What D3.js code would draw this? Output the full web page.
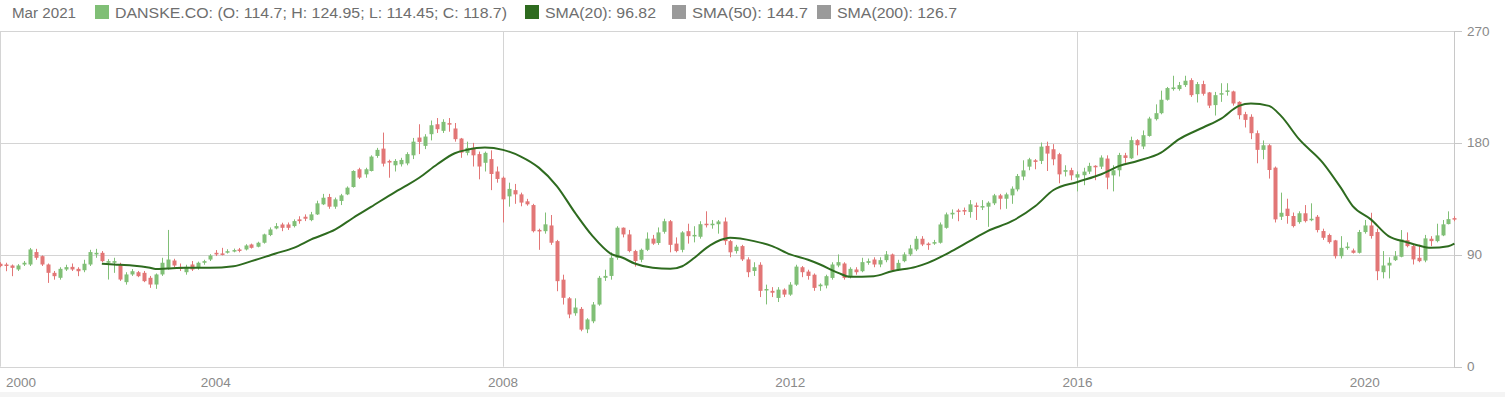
<!DOCTYPE html>
<html>
<head>
<meta charset="utf-8">
<script src="https://cdn.jsdelivr.net/npm/d3@7"></script>
<style>
  body { margin: 0; background: #fff; }
  text { font-family: "Liberation Sans", Arial, sans-serif; }
</style>
</head>
<body>
<script>
// monthly candles, Jan 2001 .. Apr 2021
var months = d3.timeMonth.range(new Date(2001, 0, 1), new Date(2021, 4, 1));

var opens = [82.8,82.2,81.4,78.2,82.2,82.2,92.2,88.9,82.2,75.5,71.5,78.2,80.3,78.7,77.6,82.2,90.3,91.6,83.6,83.6,
  82.2,68,74.2,76,75.5,71.5,66.1,74.2,79.5,85.4,80.3,76,82.2,79.5,83.6,86.2,91.6,91.1,92.1,92.7,
  94.3,94.3,98.3,96.5,99.7,105.9,111.2,114.4,114.4,113.1,118.5,120.6,117.9,122.5,130.6,136.5,128.7,133.3,138.6,144.5,
  158.8,154.7,157.4,169.5,175.4,165.5,162,162.8,163.5,170,184.3,177.6,187,195,189.7,195.9,191.6,183.5,172,176,
  171,164,167,157,152,137,142,138.6,133,130,110,109,113.6,101,70,55,43,46.5,30,36.5,
  50,71.5,73,87.6,111.8,106.4,93,86,94,103,99.5,108.5,117,99,94,109,105,104.5,115,114,
  114.6,116.8,101,93,97,86.3,77,82,61.5,61,55.3,62,58,66,80,76.5,74,64.7,65.3,71.4,
  81.4,83,72.8,78.2,76.8,83.5,86.2,82.2,85.7,90.3,78.2,84.9,90.3,94.3,102.9,99,99.1,99.7,111.7,122.5,
  125.7,126,124.4,129.7,128.4,128.7,131.4,137.8,135.1,137.8,142.6,152.9,160.9,166,165.5,177.6,174.9,170.9,156.8,158.1,
  152.1,154,156.9,161.6,160.9,167.4,153.9,158,170,167.6,182.2,177.1,185.6,199.1,203.9,214.7,223.3,223.3,226.5,230.5,
  219.2,227.3,220.6,210.4,219,221.4,221.4,213,203.1,201,187.8,174.4,178.1,160.1,120.6,127.1,121.2,116.3,123.4,118.5,
  120.6,109.1,105.9,101.6,88.9,96.1,93.5,91.6,108.3,113.6,108.3,76,81.4,85.7,88.4,101.8,97,87.6,85.4,102.9,
  101,105.6,114.7,119.5];
var highs = [84,83.6,82.2,82.5,85,95.5,94.8,89.5,83,77,80,82,83,80,86,94,94.8,93,86.5,87.6,
  83.6,76,78.5,77,77,73,75,87.6,110,86.8,83,82,85,84.5,86,90.5,93.8,95.6,94.5,95,
  95.5,98.5,99,100.5,107,112,115.5,115.8,116,118.5,121,122.5,124.5,133.5,139,139,136,139,145,158,
  160,160,170,176,188.3,166.5,167,168,172.5,184,195,187,198,200,199,200,196,184,181,180,
  173,173,174,161,153,148,147,140,135,131,111,124,122,102,74,56,55,48,39,52,
  73,78,92,113,112,110,94,95,108,106,112,119,118,104,109,115,113,117,125,118,
  118,120,102,98,98,88,84,84,66,64,64,63,68,82,81,78,75,67,74,84,
  90.3,84,80,80,87.6,87,88,88,93,91,86,92,98,105,105,100,102,116,124,126.5,
  127,128,134,132,134,133,139,139,140,145,155,166,168,167,180.3,181,179,172,162,160,
  157,160,164,162,170,170,162,172,172,185,183,190,201,211,222,225,234,229,234,232,
  229,230,221,221,228,228,222,213.5,205,203,190,182,179,161,140,135.1,124,125,130,131.4,
  122,111,107,102,105,100,95,110,118,123.8,111,93,88,93,109.9,108,98,98,106,105,
  115,118,124.95,121];
var lows = [80,76.8,72.8,77,81,81,86,81,67.4,70,70,77,77,72.8,76,81,87.6,84,70.1,75.5,
  69,66,73,72,68,63.4,62.6,73,78,80,77,74,77,78,82,85,89,89.5,91,92,
  92,93.5,95,96,99,105,110.5,109,110,112,115,117.1,117,122,130,127,127,130,138,144,
  151,152,157,168,161,152,157,161,162,167,171,175,182,188,188,189,181,168,170,161,
  150.7,157,142,148,116,128.7,131,129,129.5,108,94,107,98,60.7,50,39,41,28.5,27,35,
  49,69,70,86,104,92,80.5,84,93,98,98,107,92,92,92,99,100,103,112,111,
  107,98,88,91,85,72,73,56,50.1,56,52,56,57,65,72,70,61,61,63,70,
  80,70,71,74,76,82,80,80,84,77,77,84,89,93,97,94,98,99,111,119,
  117,122,119.8,118,126,112.5,130,126.5,127,131,141,150,158,158.8,163,157.4,162,147.5,153,150,
  141,146,155,150,159,142.7,141,153,164,167,170,175,185,198,203,214,222,222,225,217,
  212.5,218,208,202,213,218,210,199,192.4,183,163.6,166.8,151.3,116,118,115,112,115,116,117,
  108,102,99,87,87,94,91,91,107,103,69.6,71,71,85,88,96,82.2,84,84,97,
  100,105,114.45,117];
var closes = [80.9,81.4,79.5,81.4,83.6,94.3,87.6,82.2,75.5,72.8,78.7,80.1,78.2,76.8,82.8,92.2,91.6,84.9,84.9,84.9,
  70.1,74.2,76.8,72.8,68.8,66.1,74.2,83.6,86.2,81.4,78.7,80.3,78.2,83.6,84.9,89.4,90.3,90.3,92.9,93.8,
  93.2,97.5,95.6,99.7,106.4,110.4,113.1,111.7,111.7,117.1,117.1,119,122.5,131.4,135.9,128.7,134.6,137.8,144,157.4,
  152.1,158.8,169,174.4,163.3,164.2,165.5,166.3,171,181,180.8,185.1,194.2,191,196.9,194.8,183,172.2,176,170,
  161,172,155,151,134.6,143,138.6,132,130.6,109,109,114.5,99.7,68.8,55.4,42,47.6,29.8,38,50,
  71.5,73,87.6,111.8,106.4,93,85,94,103,99,108,117,98,93,108,105,106,114.6,114,115,
  116.8,101,92,96.5,86.3,76,80,61,62.5,59.5,62,58,66,80.5,76,73,63.4,66,72.8,82.2,
  84.1,71.4,78.7,76,84.1,84.9,82.2,85.7,90.3,77.6,83.5,90.3,95.1,102.9,98.3,98.3,100.2,114.4,122.5,123.8,
  124.6,124.9,130.6,128.7,129.2,131.9,137.8,135.1,138.6,143.2,153.4,157.9,166.8,164.7,177,171.4,166.8,154.7,158.1,153.9,
  154.8,156.9,161.5,160.6,168.2,152.1,158,170.3,167.9,182.2,178.1,186.2,199.6,203.9,214.7,224.1,224.6,226.5,230,218.4,
  227.3,219.5,210,218.4,220,222.2,211.7,202.3,198.5,187.8,174.4,178.1,158.2,118.5,123.8,121.2,113.1,123.4,117.1,119,
  109.9,103.7,100.2,88.9,95.6,96.6,91.6,108.3,113.6,105.1,76.8,81.4,83.6,88.9,102.4,97,86.3,84.9,103.2,101,
  105.6,114.5,118.7,118.5];

// SMA(20)
var smaDates = ["2002-06","2002-08","2002-11","2003-02","2003-03","2003-05","2003-08","2003-12","2004-04","2004-07",
  "2004-11","2005-02","2005-05","2005-09","2005-12","2006-03","2006-07","2006-09","2006-11","2007-02",
  "2007-05","2007-07","2007-10","2008-01","2008-04","2008-07","2008-10","2009-01","2009-04","2009-07",
  "2009-09","2009-11","2010-02","2010-05","2010-07","2010-09","2010-11","2011-02","2011-03","2011-07",
  "2011-10","2012-01","2012-04","2012-06","2012-09","2012-11","2013-03","2013-06","2013-10","2013-12",
  "2014-04","2014-07","2014-10","2015-02","2015-06","2015-09","2016-01","2016-05","2016-08","2016-11",
  "2017-03","2017-06","2017-10","2018-01","2018-04","2018-06","2018-09","2018-11","2019-02","2019-06",
  "2019-09","2019-11","2020-02","2020-05","2020-08","2020-10","2020-12","2021-03","2021-04"];
var smaValues = [82.8,82.2,81.4,79.5,78.6,79,79.5,79.5,80.8,84.9,
  91.1,95.6,102.4,110.4,119.8,128.5,140.5,146,152,162.8,
  171.7,174.4,176.3,174.4,169,160.1,145.3,123.9,105,91,
  87.6,83,79.5,78.7,80.8,87.6,95.6,102.9,103.7,101,
  97,90.3,86,82.2,75.5,72.3,72.8,76.8,80.3,83.5,
  92.9,101,109.1,117,129.2,142.1,148.6,154.8,161.5,165.5,
  172.2,183,192.4,199.6,209.8,211.7,209.8,201.7,183,164.2,
  144,129.2,118.5,105,100.2,97.5,95.6,96.82,98.9];

var yTicks = [0, 90, 180, 270];
var xTickYears = [2000, 2004, 2008, 2012, 2016, 2020];
var xGridYears = [2008, 2016];

var width = 1505, height = 397;
var plotRight = 1454, plotTop = 31, plotBottom = 366.7;

var svg = d3.select("body").append("svg")
    .attr("width", width)
    .attr("height", height);

svg.append("rect")
    .attr("x", 0).attr("y", 392)
    .attr("width", width).attr("height", 5)
    .attr("fill", "#f4f4f4");

var x = d3.scaleTime()
    .domain([new Date(2001, 0, 1), new Date(2021, 2, 1)])
    .range([0.4, 1448.3]);
var y = d3.scaleLinear()
    .domain([0, 270])
    .range([plotBottom, plotTop]);

var parseMonth = d3.timeParse("%Y-%m");

// grid
svg.append("g").selectAll("line")
    .data(yTicks)
    .enter().append("line")
    .attr("x1", 0).attr("x2", plotRight)
    .attr("y1", function(d) { return Math.round(y(d)) + 0.5; })
    .attr("y2", function(d) { return Math.round(y(d)) + 0.5; })
    .attr("stroke", "#d4d4d4");

svg.append("g").selectAll("line")
    .data(xGridYears)
    .enter().append("line")
    .attr("x1", function(d) { return Math.round(x(new Date(d, 0, 1))) + 0.5; })
    .attr("x2", function(d) { return Math.round(x(new Date(d, 0, 1))) + 0.5; })
    .attr("y1", plotTop).attr("y2", plotBottom)
    .attr("stroke", "#d4d4d4");

svg.append("line")
    .attr("x1", 0.5).attr("x2", 0.5)
    .attr("y1", plotTop).attr("y2", plotBottom)
    .attr("stroke", "#d4d4d4");

// right axis
var axisG = svg.append("g");
axisG.append("line")
    .attr("x1", plotRight + 0.5).attr("x2", plotRight + 0.5)
    .attr("y1", plotTop).attr("y2", Math.round(plotBottom) + 0.5)
    .attr("stroke", "#c8c8c8");
axisG.selectAll(".tick")
    .data(yTicks)
    .enter().append("line")
    .attr("x1", plotRight).attr("x2", plotRight + 8)
    .attr("y1", function(d) { return Math.round(y(d)) + 0.5; })
    .attr("y2", function(d) { return Math.round(y(d)) + 0.5; })
    .attr("stroke", "#c8c8c8");
axisG.selectAll("text")
    .data(yTicks)
    .enter().append("text")
    .attr("x", plotRight + 13)
    .attr("y", function(d) { return y(d) + 4.5; })
    .attr("fill", "#8a8a8a")
    .style("font-size", "13.5px")
    .text(function(d) { return d; });

// bottom labels
svg.append("g").selectAll("text")
    .data(xTickYears)
    .enter().append("text")
    .attr("x", function(d) { return Math.max(21, x(new Date(d, 0, 1))); })
    .attr("y", 387)
    .attr("text-anchor", "middle")
    .attr("fill", "#8a8a8a")
    .style("font-size", "13.5px")
    .text(function(d) { return d; });

// candles
var green = "#80bf76", red = "#e27676";
var candles = svg.append("g").selectAll("g")
    .data(months)
    .enter().append("g")
    .attr("fill", function(d, i) { return closes[i] >= opens[i] ? green : red; })
    .attr("stroke", function(d, i) { return closes[i] >= opens[i] ? green : red; });

candles.append("line")
    .attr("x1", function(d) { return Math.round(x(d)) + 0.5; })
    .attr("x2", function(d) { return Math.round(x(d)) + 0.5; })
    .attr("y1", function(d, i) { return y(highs[i]); })
    .attr("y2", function(d, i) { return y(lows[i]); })
    .attr("stroke-width", 1);

candles.append("rect")
    .attr("stroke", "none")
    .attr("x", function(d) { return Math.round(x(d)) - 1.5; })
    .attr("width", 4)
    .attr("y", function(d, i) { return y(Math.max(opens[i], closes[i])); })
    .attr("height", function(d, i) {
        return Math.max(1.5, Math.abs(y(opens[i]) - y(closes[i])));
    });

// SMA(20)
var line = d3.line()
    .x(function(d) { return x(parseMonth(d)); })
    .y(function(d, i) { return y(smaValues[i]); })
    .curve(d3.curveMonotoneX);

svg.append("path")
    .datum(smaDates)
    .attr("d", line)
    .attr("fill", "none")
    .attr("stroke", "#2e6b1f")
    .attr("stroke-width", 2);

// legend
var legend = svg.append("g").style("font-size", "15.5px").attr("fill", "#6e6e6e");
legend.append("text").attr("x", 12).attr("y", 18)
    .attr("textLength", 64).attr("lengthAdjust", "spacingAndGlyphs")
    .text("Mar 2021");

var items = [
    {x: 95, color: green, w: 392, label: "DANSKE.CO: (O: 114.7; H: 124.95; L: 114.45; C: 118.7)"},
    {x: 525, color: "#2e6b1f", w: 111, label: "SMA(20): 96.82"},
    {x: 672, color: "#9a9a9a", w: 116, label: "SMA(50): 144.7"},
    {x: 817, color: "#9a9a9a", w: 120, label: "SMA(200): 126.7"}
];
items.forEach(function(it) {
    legend.append("rect")
        .attr("x", it.x).attr("y", 5)
        .attr("width", 14).attr("height", 14)
        .attr("fill", it.color);
    legend.append("text")
        .attr("x", it.x + 20).attr("y", 18)
        .attr("textLength", it.w).attr("lengthAdjust", "spacingAndGlyphs")
        .text(it.label);
});
</script>
</body>
</html>
